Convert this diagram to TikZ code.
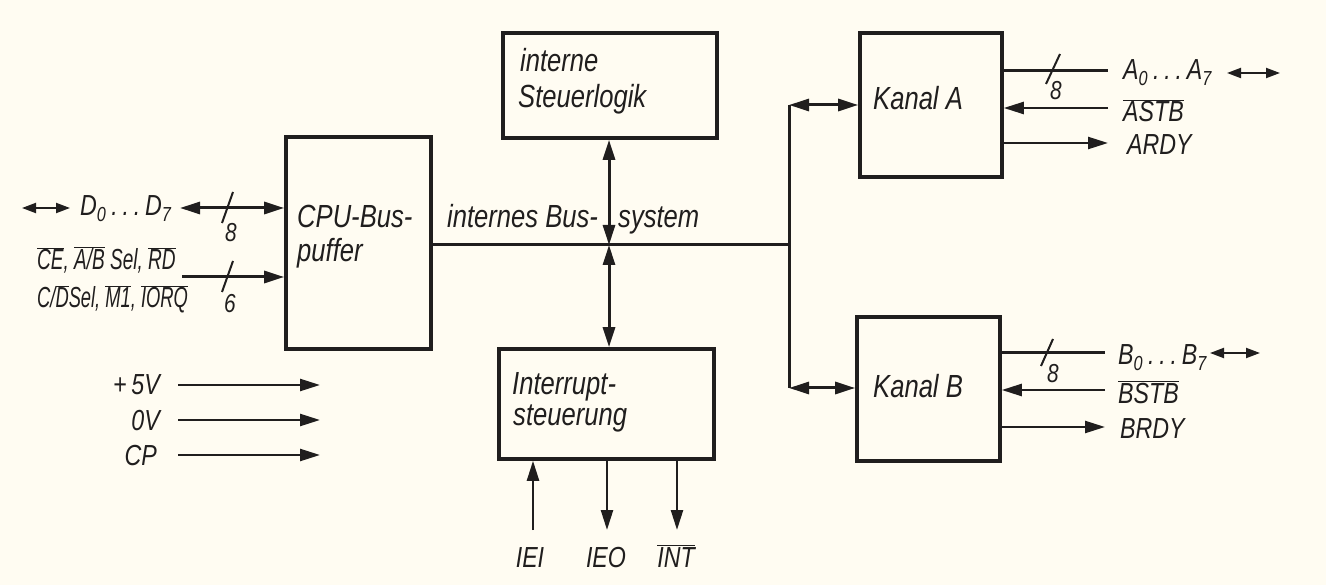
\documentclass[tikz,border=0pt]{standalone}
\usepackage{fontspec}
\setmainfont{Liberation Sans}[FakeStretch=0.8]
\usetikzlibrary{arrows.meta}
\definecolor{paper}{RGB}{255,252,242}
\definecolor{ink}{RGB}{32,30,30}
\newcommand\ovl[1]{$\overline{\mbox{#1}}$}
\newcommand\sbs[1]{\textsubscript{#1}}
\begin{document}
\begin{tikzpicture}[x=1pt,y=-1pt,
  >={Triangle[length=20pt,width=12pt]},
  box/.style={draw=ink,line width=3.6pt,inner sep=0pt},
  wire/.style={draw=ink,line width=3pt},
  thinw/.style={draw=ink,line width=2.4pt},
  stub/.style={draw=ink,line width=2pt,{Triangle[length=14pt,width=10pt]}-{Triangle[length=14pt,width=10pt]}},
  slash/.style={draw=ink,line width=2pt},
  blbl/.style={font=\fontsize{32}{36}\selectfont\itshape,text=ink,inner sep=0pt},
  slbl/.style={font=\fontsize{29}{33}\selectfont\itshape,text=ink,inner sep=0pt},
  num/.style={font=\fontsize{26}{30}\selectfont\itshape,text=ink,inner sep=0pt},
]
\fill[paper] (0,0) rectangle (1326,585);
\useasboundingbox (0,0) rectangle (1326,585);

% boxes
\node[box,minimum width=145pt,minimum height=212pt] (cpu) at (358.5,243) {};
\node[box,minimum width=214pt,minimum height=105pt] (stl) at (610,85.5) {};
\node[box,minimum width=215pt,minimum height=110pt] (irq) at (606.5,404) {};
\node[box,minimum width=142pt,minimum height=144pt] (ka) at (931,105) {};
\node[box,minimum width=143pt,minimum height=144pt] (kb) at (928.5,389) {};

% box labels
\node[blbl,anchor=base west] (tcpu1) at (297,228) {CPU-Bus-};
\node[blbl,anchor=base west] (tcpu2) at (297,262) {puffer};
\node[blbl,anchor=base west] (tstl1) at (520,72) {interne};
\node[blbl,anchor=base west] (tstl2) at (518,108) {Steuerlogik};
\node[blbl,anchor=base west] (tirq1) at (512,395) {Interrupt-};
\node[blbl,anchor=base west] (tirq2) at (513,425) {steuerung};
\node[blbl,anchor=base west] (tka) at (873,110) {Kanal A};
\node[blbl,anchor=base west] (tkb) at (873,397) {Kanal B};
\node[blbl,anchor=base west] (tbus1) at (447,228) {internes Bus-};
\node[blbl,anchor=base west] (tbus2) at (618,228) {system};

% internal bus
\coordinate (bj) at (609,245);
\coordinate (bc) at (789,245);
\coordinate (bca) at (789,105);
\coordinate (bcb) at (789,388);
\draw[wire] (cpu.east |- bj) -- (bc);
\draw[wire] (bca) -- (bcb);
\draw[wire,<->] (bca) -- (bca -| ka.west);
\draw[wire,<->] (bcb) -- (bcb -| kb.west);
\draw[wire,<->] (stl.south -| bj) -- (bj);
\draw[wire,<->] (bj) -- (irq.north -| bj);

% CPU side
\coordinate (dstart) at (180,208);
\draw[wire,<->] (dstart) -- (dstart -| cpu.west);
\draw[slash] (233,192) -- (222,223);
\node[num,anchor=base] (n8a) at (231,242) {8};
\coordinate (cstart) at (182,277);
\draw[wire,->] (cstart) -- (cstart -| cpu.west);
\draw[slash] (233,261) -- (222,292);
\node[num,anchor=base] (n6) at (230,313) {6};
\coordinate (dsa) at (22,208);
\coordinate (dsb) at (70,208);
\draw[stub] (dsa) -- (dsb);
\node[slbl,anchor=base west] (td) at (80,216) {D\sbs{0}\,.\,.\,.\,D\sbs{7}};
\node[slbl,anchor=base west] (tc1) at (37,270) {\scalebox{0.82}[1]{\ovl{CE}, \ovl{A/B} Sel, \ovl{RD}}};
\node[slbl,anchor=base west] (tc2) at (37,308) {\scalebox{0.79}[1]{C/\ovl{D}Sel, \ovl{M1}, \ovl{IORQ}}};

% supply
\node[slbl,anchor=base east] (t5v) at (160,395) {+\,5V};
\node[slbl,anchor=base east] (t0v) at (160,430) {0V};
\node[slbl,anchor=base east] (tcp) at (157,465) {CP};
\coordinate (p5a) at (178,385); \coordinate (p5b) at (320,385);
\coordinate (p0a) at (178,420); \coordinate (p0b) at (320,420);
\coordinate (pca) at (178,455); \coordinate (pcb) at (320,455);
\draw[thinw,->] (p5a) -- (p5b);
\draw[thinw,->] (p0a) -- (p0b);
\draw[thinw,->] (pca) -- (pcb);

% interrupt signals
\coordinate (iei) at (533,530);
\coordinate (ieo) at (607,530);
\coordinate (int) at (677,530);
\draw[thinw,->] (iei) -- (iei |- irq.south);
\draw[thinw,->] (ieo |- irq.south) -- (ieo);
\draw[thinw,->] (int |- irq.south) -- (int);
\node[slbl,anchor=base] (tiei) at (530,567) {IEI};
\node[slbl,anchor=base] (tieo) at (606,567) {IEO};
\node[slbl,anchor=base] (tint) at (676,567) {\ovl{INT}};

% Kanal A
\coordinate (ad) at (1108,71);
\coordinate (as) at (1108,108);
\coordinate (ar) at (1108,143);
\draw[wire] (ka.east |- ad) -- (ad);
\draw[slash] (1060,54) -- (1046,84);
\node[num,anchor=base] (n8b) at (1056,100) {8};
\draw[thinw,->] (as) -- (as -| ka.east);
\draw[thinw,->] (ka.east |- ar) -- (ar);
\node[slbl,anchor=base west] (tad) at (1123,80) {A\sbs{0}\,.\,.\,.\,A\sbs{7}};
\coordinate (asa) at (1227,73); \coordinate (asb) at (1280,73);
\draw[stub] (asa) -- (asb);
\node[slbl,anchor=base west] (tas) at (1123,122) {\ovl{ASTB}};
\node[slbl,anchor=base west] (tar) at (1127,155) {ARDY};

% Kanal B
\coordinate (bd) at (1105,353);
\coordinate (bs) at (1105,390);
\coordinate (br) at (1105,427);
\draw[wire] (kb.east |- bd) -- (bd);
\draw[slash] (1053,339) -- (1041,366);
\node[num,anchor=base] (n8c) at (1053,383) {8};
\draw[thinw,->] (bs) -- (bs -| kb.east);
\draw[thinw,->] (kb.east |- br) -- (br);
\node[slbl,anchor=base west] (tbd) at (1118,365) {B\sbs{0}\,.\,.\,.\,B\sbs{7}};
\coordinate (bsa) at (1210,353); \coordinate (bsb) at (1260,353);
\draw[stub] (bsa) -- (bsb);
\node[slbl,anchor=base west] (tbs) at (1118,403) {\ovl{BSTB}};
\node[slbl,anchor=base west] (tbr) at (1120,438) {BRDY};
\end{tikzpicture}
\end{document}
